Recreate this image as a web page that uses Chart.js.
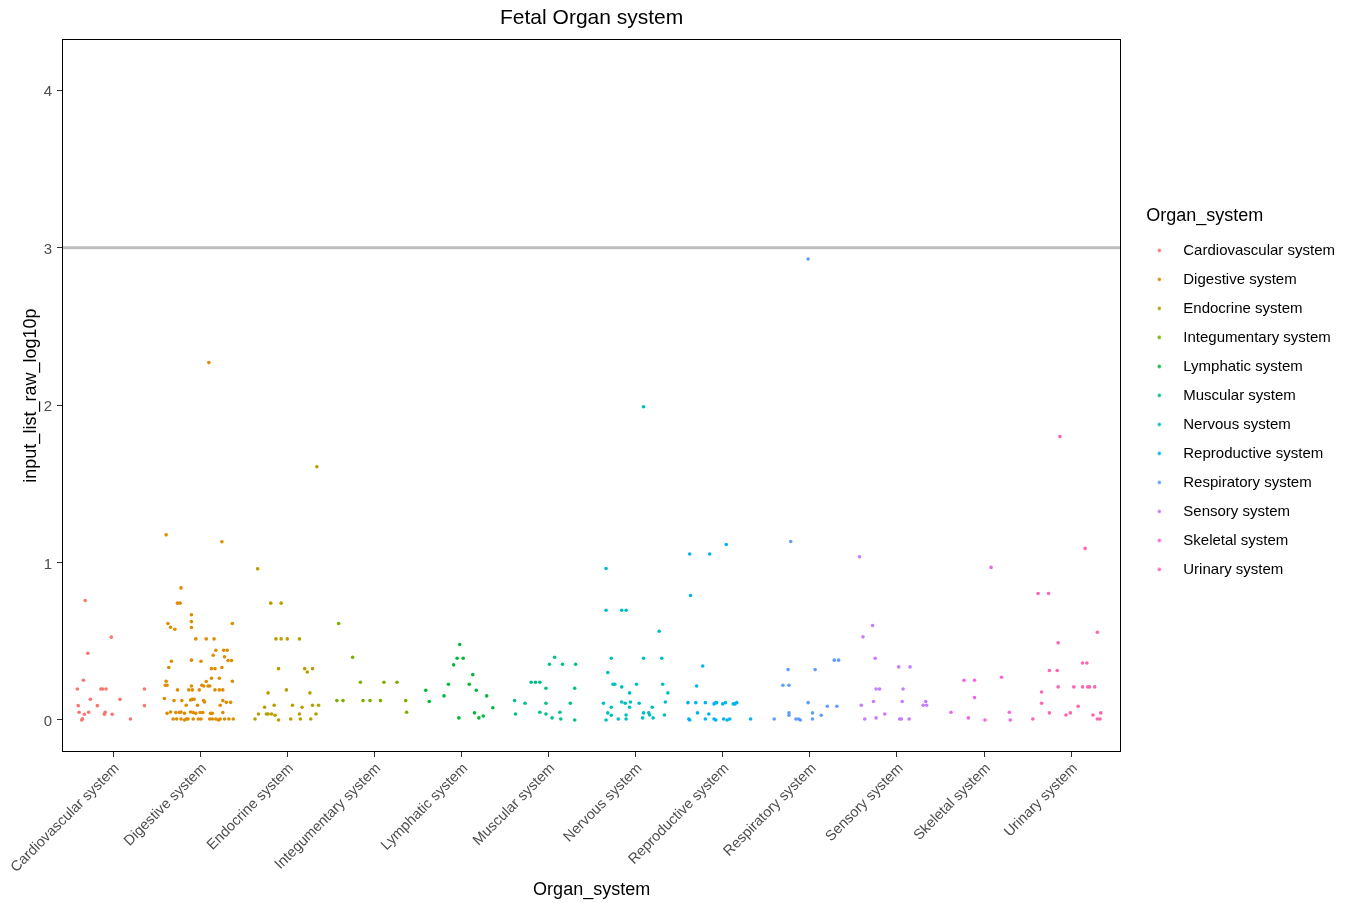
<!DOCTYPE html>
<html>
<head>
<meta charset="utf-8">
<title>Fetal Organ system</title>
<script src="https://cdn.jsdelivr.net/npm/chart.js@4.4.1/dist/chart.umd.min.js"></script>
<style>
  html, body { margin: 0; padding: 0; background: #ffffff; }
  #wrap { width: 1345px; height: 903px; }
</style>
</head>
<body>
<div id="wrap"><canvas id="chart" width="1345" height="903"></canvas></div>
<script>
// Organ systems on the x axis (one column of points each)
const categories = [
  'Cardiovascular system', 'Digestive system', 'Endocrine system', 'Integumentary system',
  'Lymphatic system', 'Muscular system', 'Nervous system', 'Reproductive system',
  'Respiratory system', 'Sensory system', 'Skeletal system', 'Urinary system'
];

// ggplot default hue palette for 12 groups
const colors = [
  '#F8766D', '#DE8C00', '#B79F00', '#7CAE00', '#00BA38', '#00C08B',
  '#00BFC4', '#00B4F0', '#619CFF', '#C77CFF', '#F564E3', '#FF64B0'
];

const yTicks = [0, 1, 2, 3, 4];
const thresholdLevel = 3;

// input_list_raw_log10p values and horizontal jitter per organ system
const cardiovascularValues = [0.759, 0.526, 0.424, 0.252, 0.197, 0.197, 0.197, 0.197, 0.197, 0.131, 0.131, 0.091, 0.091, 0.091, 0.049, 0.049, 0.036, 0.049, 0.036, 0.036, 0.008, 0.0, 0.006];
const cardiovascularJitter = [-0.32, -0.02, -0.29, -0.34, -0.41, -0.14, -0.12, -0.08, 0.36, -0.26, 0.08, -0.40, -0.18, 0.36, -0.39, -0.28, -0.33, -0.09, -0.10, -0.01, -0.35, -0.36, 0.20];

const digestiveValues = [1.176, 1.132, 2.27, 0.839, 0.742, 0.742, 0.668, 0.625, 0.587, 0.613, 0.589, 0.576, 0.613, 0.515, 0.515, 0.515, 0.443, 0.443, 0.443, 0.411, 0.401, 0.378, 0.378, 0.373, 0.380, 0.373, 0.333, 0.326, 0.326, 0.333, 0.265, 0.265, 0.244, 0.246, 0.246, 0.221, 0.221, 0.216, 0.221, 0.216, 0.216, 0.216, 0.191, 0.191, 0.191, 0.191, 0.191, 0.191, 0.191, 0.136, 0.123, 0.123, 0.127, 0.131, 0.131, 0.123, 0.114, 0.123, 0.112, 0.112, 0.093, 0.093, 0.093, 0.042, 0.051, 0.047, 0.047, 0.051, 0.042, 0.051, 0.047, 0.042, 0.047, 0.047, 0.042, 0.042, 0.047, 0.006, 0.006, 0.006, 0.0, 0.006, 0.006, 0.006, 0.006, 0.006, 0.006, 0.006, 0.006, 0.0, 0.006, 0.006, 0.006, 0.006];
const digestiveJitter = [-0.39, 0.25, 0.10, -0.22, -0.26, -0.23, -0.10, -0.10, -0.10, -0.37, -0.34, -0.29, 0.37, -0.05, 0.07, 0.16, 0.18, 0.27, 0.31, 0.15, 0.28, 0.32, 0.36, -0.33, -0.10, 0.01, -0.36, 0.13, 0.17, 0.25, 0.13, 0.22, 0.07, -0.39, 0.37, -0.40, -0.38, -0.10, 0.02, 0.04, 0.09, 0.11, -0.26, -0.13, -0.09, -0.01, 0.17, 0.22, 0.26, -0.41, -0.30, -0.21, -0.11, -0.09, -0.07, 0.04, 0.05, 0.26, 0.30, 0.35, -0.16, -0.03, 0.23, -0.38, -0.34, -0.28, -0.24, -0.22, -0.18, -0.11, -0.08, -0.05, 0.00, 0.03, 0.12, 0.14, 0.26, -0.31, -0.27, -0.22, -0.18, -0.16, -0.14, -0.08, -0.02, 0.01, 0.11, 0.14, 0.18, 0.21, 0.23, 0.28, 0.33, 0.38];

const endocrineValues = [0.960, 1.609, 0.742, 0.742, 0.515, 0.515, 0.515, 0.515, 0.326, 0.326, 0.305, 0.326, 0.191, 0.172, 0.172, 0.081, 0.093, 0.093, 0.081, 0.093, 0.093, 0.038, 0.038, 0.038, 0.038, 0.030, 0.038, 0.038, 0.006, 0.0, 0.006, 0.006, 0.006];
const endocrineJitter = [-0.34, 0.34, -0.19, -0.07, -0.13, -0.07, 0.0, 0.14, -0.10, 0.20, 0.23, 0.29, -0.01, -0.22, 0.26, -0.26, -0.15, 0.06, 0.17, 0.29, 0.36, -0.33, -0.24, -0.22, -0.18, -0.14, 0.14, 0.33, -0.37, -0.10, 0.04, 0.15, 0.27];

const integumentaryValues = [0.613, 0.398, 0.240, 0.240, 0.240, 0.123, 0.123, 0.123, 0.123, 0.123, 0.123, 0.049];
const integumentaryJitter = [-0.41, -0.25, -0.16, 0.11, 0.26, -0.43, -0.36, -0.13, -0.05, 0.07, 0.36, 0.37];

const lymphaticValues = [0.479, 0.392, 0.392, 0.350, 0.288, 0.227, 0.227, 0.189, 0.189, 0.153, 0.153, 0.117, 0.078, 0.045, 0.025, 0.013, 0.013];
const lymphaticJitter = [-0.02, -0.05, 0.02, -0.09, 0.13, -0.15, 0.09, -0.41, 0.17, -0.20, 0.29, -0.37, 0.36, 0.15, 0.25, 0.20, -0.03];

const muscularValues = [0.398, 0.354, 0.354, 0.354, 0.240, 0.240, 0.240, 0.201, 0.201, 0.123, 0.106, 0.106, 0.106, 0.038, 0.049, 0.038, 0.049, 0.013, 0.006, 0.0];
const muscularJitter = [0.07, 0.01, 0.16, 0.31, -0.20, -0.15, -0.10, -0.03, 0.30, -0.39, -0.27, -0.03, 0.25, -0.38, -0.10, -0.03, 0.13, 0.04, 0.14, 0.30];

const nervousValues = [0.962, 1.990, 0.697, 0.697, 0.697, 0.564, 0.392, 0.392, 0.392, 0.301, 0.227, 0.227, 0.227, 0.227, 0.210, 0.172, 0.172, 0.106, 0.114, 0.106, 0.114, 0.106, 0.114, 0.081, 0.081, 0.081, 0.045, 0.030, 0.032, 0.045, 0.045, 0.032, 0.032, 0.0, 0.006, 0.006, 0.013, 0.013];
const nervousJitter = [-0.34, 0.09, -0.34, -0.16, -0.11, 0.27, -0.28, 0.09, 0.30, -0.32, -0.26, -0.24, 0.01, 0.31, -0.16, -0.07, 0.37, -0.37, -0.16, -0.12, -0.06, 0.04, 0.34, -0.28, -0.07, 0.19, -0.32, -0.28, -0.11, 0.09, 0.15, 0.16, 0.33, -0.34, -0.20, -0.11, 0.08, 0.20];

const reproductiveValues = [1.115, 1.054, 1.054, 0.791, 0.343, 0.216, 0.110, 0.110, 0.110, 0.102, 0.110, 0.110, 0.102, 0.110, 0.102, 0.102, 0.110, 0.045, 0.038, 0.006, 0.0, 0.006, 0.006, 0.0, 0.006, 0.0, 0.006, 0.006];
const reproductiveJitter = [0.04, -0.38, -0.15, -0.37, -0.23, -0.30, -0.40, -0.31, -0.20, -0.10, -0.08, -0.07, 0.0, 0.03, 0.12, 0.14, 0.16, -0.29, -0.16, -0.39, -0.38, -0.20, -0.10, -0.08, 0.01, 0.05, 0.08, 0.32];

const respiratoryValues = [1.134, 2.928, 0.380, 0.380, 0.320, 0.320, 0.221, 0.221, 0.110, 0.087, 0.087, 0.045, 0.030, 0.045, 0.030, 0.006, 0.006, 0.006, 0.0, 0.006];
const respiratoryJitter = [-0.22, -0.02, 0.28, 0.33, -0.25, 0.06, -0.31, -0.24, -0.02, 0.20, 0.31, -0.24, -0.24, 0.03, 0.13, -0.41, -0.16, -0.13, -0.11, 0.03];

const sensoryValues = [1.037, 0.600, 0.528, 0.392, 0.337, 0.337, 0.197, 0.197, 0.197, 0.117, 0.117, 0.117, 0.093, 0.093, 0.093, 0.038, 0.006, 0.013, 0.006, 0.006, 0.006];
const sensoryJitter = [-0.43, -0.28, -0.39, -0.25, 0.02, 0.15, -0.24, -0.20, 0.07, -0.27, 0.06, 0.33, -0.41, 0.30, 0.34, -0.14, -0.37, -0.24, 0.03, 0.05, 0.14];

const skeletalValues = [0.969, 0.271, 0.252, 0.252, 0.142, 0.049, 0.049, 0.013, 0.0, 0.0];
const skeletalJitter = [0.08, 0.20, -0.23, -0.11, -0.11, -0.38, 0.29, -0.18, 0.01, 0.30];

const urinaryValues = [1.090, 1.800, 0.803, 0.803, 0.557, 0.490, 0.362, 0.362, 0.314, 0.314, 0.210, 0.210, 0.210, 0.210, 0.210, 0.210, 0.178, 0.106, 0.087, 0.045, 0.045, 0.032, 0.045, 0.032, 0.006, 0.006, 0.006];
const urinaryJitter = [0.16, -0.13, -0.38, -0.26, 0.30, -0.15, 0.13, 0.18, -0.25, -0.16, -0.15, 0.03, 0.13, 0.19, 0.21, 0.27, -0.34, -0.34, 0.08, -0.25, -0.01, -0.06, 0.34, 0.25, -0.44, 0.30, 0.33];

const seriesValues = [cardiovascularValues, digestiveValues, endocrineValues, integumentaryValues,
  lymphaticValues, muscularValues, nervousValues, reproductiveValues,
  respiratoryValues, sensoryValues, skeletalValues, urinaryValues];
const seriesJitter = [cardiovascularJitter, digestiveJitter, endocrineJitter, integumentaryJitter,
  lymphaticJitter, muscularJitter, nervousJitter, reproductiveJitter,
  respiratoryJitter, sensoryJitter, skeletalJitter, urinaryJitter];

// Axis extents (ggplot-style expansion around the categories and data)
const X_MIN = 0.414, X_MAX = 12.575;
const Y_MIN = -0.2035, Y_MAX = 4.3245;

const FONT = "'Liberation Sans', Arial, sans-serif";
Chart.defaults.font.family = FONT;
Chart.defaults.color = '#4D4D4D';

// Small coloured dot used as the legend key, drawn left of the label gap
function legendDot(color) {
  const c = document.createElement('canvas');
  c.width = 24; c.height = 8;
  const g = c.getContext('2d');
  g.fillStyle = color;
  g.beginPath();
  g.arc(3.25, 4, 1.8, 0, Math.PI * 2);
  g.fill();
  return c;
}

// Black frame around the panel
const panelBorder = {
  id: 'panelBorder',
  afterDatasetsDraw(chart) {
    const { ctx, chartArea: a } = chart;
    ctx.save();
    ctx.strokeStyle = '#000000';
    ctx.lineWidth = 1;
    ctx.strokeRect(Math.round(a.left) + 0.5, Math.round(a.top) + 0.5,
      Math.round(a.width) - 1, Math.round(a.height) - 1);
    ctx.restore();
  }
};

const datasets = [{
  type: 'line',
  label: 'threshold',
  data: [{ x: X_MIN, y: thresholdLevel }, { x: X_MAX, y: thresholdLevel }],
  borderColor: '#BEBEBE',
  borderWidth: 3,
  pointRadius: 0,
  pointHoverRadius: 0,
  fill: false,
  order: 20
}];

categories.forEach((name, i) => {
  datasets.push({
    type: 'scatter',
    label: name,
    data: seriesValues[i].map((v, k) => ({ x: i + 1 + seriesJitter[i][k], y: v })),
    backgroundColor: colors[i],
    borderColor: colors[i],
    borderWidth: 0,
    pointRadius: 1.8,
    pointHoverRadius: 1.8,
    order: 1
  });
});

new Chart(document.getElementById('chart'), {
  type: 'scatter',
  data: { datasets },
  options: {
    responsive: false,
    animation: false,
    devicePixelRatio: 1,
    layout: { padding: { top: 0, right: 0, bottom: 0, left: 0 } },
    plugins: {
      tooltip: { enabled: false },
      title: {
        display: true,
        text: 'Fetal Organ system',
        color: '#000000',
        fullSize: false,
        font: { size: 21, weight: 'normal', family: FONT },
        padding: { top: 6, bottom: 8 }
      },
      legend: {
        display: true,
        position: 'right',
        align: 'center',
        fullSize: false,
        title: {
          display: true,
          text: 'Organ_system',
          color: '#000000',
          position: 'start',
          font: { size: 18, family: FONT },
          padding: { top: 7, bottom: 0 }
        },
        labels: {
          color: '#000000',
          font: { size: 15, family: FONT },
          padding: 14,
          usePointStyle: true,
          pointStyleWidth: 15.5,
          generateLabels(chart) {
            const items = Chart.defaults.plugins.legend.labels.generateLabels(chart);
            return items
              .filter(it => it.datasetIndex > 0)
              .map(it => Object.assign({}, it, { pointStyle: legendDot(colors[it.datasetIndex - 1]) }));
          }
        }
      }
    },
    scales: {
      x: {
        type: 'linear',
        position: 'bottom',
        min: X_MIN,
        max: X_MAX,
        afterBuildTicks(scale) {
          scale.ticks = categories.map((_, i) => ({ value: i + 1 }));
        },
        afterFit(scale) { scale.height = 151; },
        grid: { display: true, drawOnChartArea: false, drawTicks: true, tickLength: 5, color: '#333333' },
        border: { display: false },
        ticks: {
          autoSkip: false,
          minRotation: 45,
          maxRotation: 45,
          padding: 3,
          labelOffset: 4,
          color: '#4D4D4D',
          font: { size: 14.5, family: FONT },
          callback(value) {
            const i = Math.round(value) - 1;
            return categories[i] !== undefined ? categories[i] : '';
          }
        },
        title: {
          display: true,
          text: 'Organ_system',
          color: '#000000',
          font: { size: 18, family: FONT },
          padding: { top: 0, bottom: 2 }
        }
      },
      y: {
        type: 'linear',
        position: 'left',
        min: Y_MIN,
        max: Y_MAX,
        afterBuildTicks(scale) {
          scale.ticks = yTicks.map(v => ({ value: v }));
        },
        afterFit(scale) { scale.width = 62; },
        grid: { display: true, drawOnChartArea: false, drawTicks: true, tickLength: 5, color: '#333333' },
        border: { display: false },
        ticks: {
          padding: 5,
          labelOffset: 2,
          color: '#4D4D4D',
          font: { size: 15, family: FONT }
        },
        title: {
          display: true,
          text: 'input_list_raw_log10p',
          color: '#000000',
          font: { size: 18, family: FONT },
          padding: { top: 20, bottom: 0 }
        }
      },
      gap: {
        type: 'linear',
        position: 'right',
        display: true,
        afterFit(scale) { scale.width = 25; },
        grid: { display: false },
        border: { display: false },
        ticks: { display: false }
      }
    }
  },
  plugins: [panelBorder]
});
</script>
</body>
</html>
